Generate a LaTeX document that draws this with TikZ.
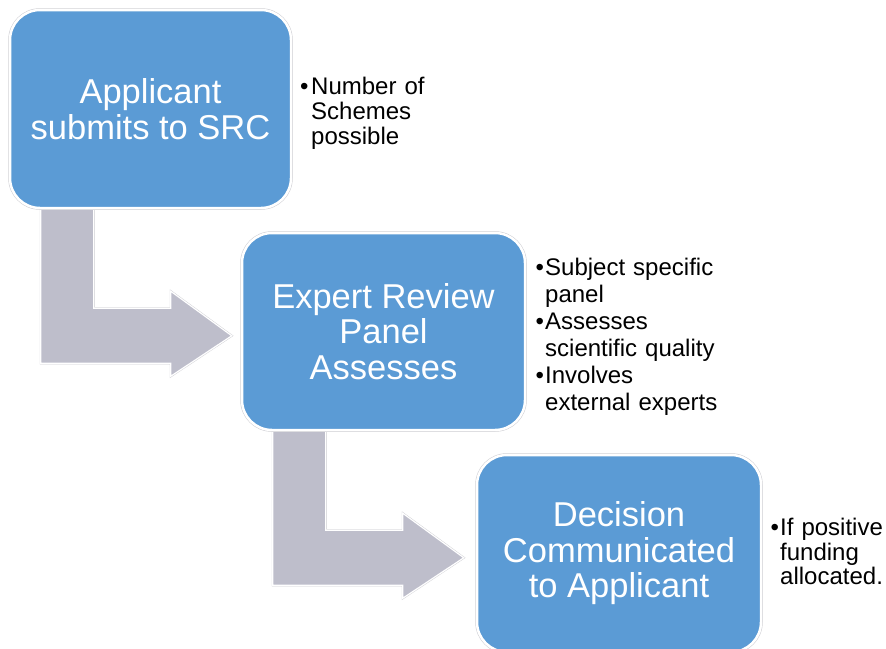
\documentclass[tikz,border=0pt]{standalone}
\usepackage{fontspec}
\setmainfont{Liberation Sans}
\definecolor{boxblue}{RGB}{91,155,213}
\definecolor{arrowgray}{RGB}{190,190,203}
\definecolor{edgegray}{RGB}{205,205,210}
\pgfdeclarelayer{background}
\pgfsetlayers{background,main}
\newlength{\bulind}
\setlength{\bulind}{11pt}
\newcommand{\bitem}[1]{\par\noindent\hangindent=\bulind\hangafter=1\makebox[\bulind][l]{\textbullet}#1\par}
\tikzset{
  stepbox/.style={rectangle, rounded corners=30pt, fill=boxblue, draw=white, line width=2.5pt,
    preaction={draw=edgegray, line width=3.5pt},
    inner sep=0pt, align=center, text=white,
    font=\fontsize{34.5}{35.5}\selectfont},
  bentarrow/.style={fill=arrowgray, draw=white, line width=1.2pt, line join=miter,
    preaction={draw=edgegray, line width=2pt}},
  bullets/.style={anchor=base west, inner sep=0pt, text width=200pt, align=left, text=black},
}
\newcommand{\bendarrow}[1]{%
  \draw[bentarrow, shift={(#1.south west)}]
    (32,0) -- (85,0) -- (85,99) -- (162,99) -- (162,82) -- (223,126.5)
    -- (162,167) -- (162,154) -- (32,154) -- cycle;}
\begin{document}
\begin{tikzpicture}[x=1pt,y=-1pt]
\useasboundingbox (0,0) rectangle (886,648);
\clip (0,0) rectangle (886,648);
\node[stepbox, minimum width=281pt, minimum height=198pt] (b1) at (150.5,109) {Applicant\\submits to SRC};
\node[stepbox, minimum width=283pt, minimum height=197pt] (b2) at (383.5,331.5) {Expert Review\\Panel\\Assesses};
\node[stepbox, minimum width=284pt, minimum height=197pt] (b3) at (619,553.5) {Decision\\Communicated\\to Applicant};
\begin{pgfonlayer}{background}
\fill[white] (0,0) rectangle (886,648);
\bendarrow{b1}
\bendarrow{b2}
\end{pgfonlayer}
\node[bullets, font=\fontsize{24}{25}\selectfont] (t1) at (300,69) {\bitem{Number of\newline Schemes\newline possible}};
\node[bullets, font=\fontsize{24}{27}\selectfont] (t2) at (535.5,248) {\setlength{\bulind}{9.5pt}\bitem{Subject specific\newline panel}\bitem{Assesses\newline scientific quality}\bitem{Involves\newline external experts}};
\node[bullets, font=\fontsize{24}{24.5}\selectfont] (t3) at (770.5,511) {\setlength{\bulind}{9.5pt}\bitem{If positive\newline funding\newline allocated.}};
\end{tikzpicture}
\end{document}
